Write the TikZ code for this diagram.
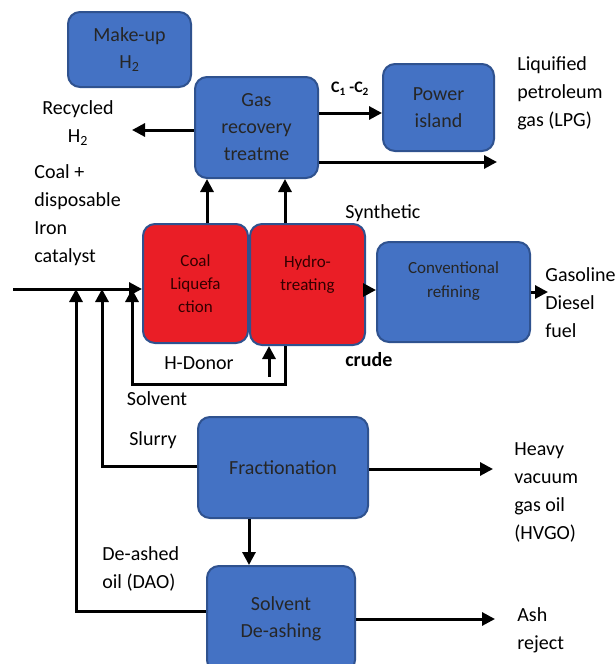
\documentclass[tikz,border=0pt]{standalone}
\usepackage{fontspec}
\setmainfont{Carlito}
\usetikzlibrary{arrows.meta}

\definecolor{boxblue}{RGB}{68,114,196}
\definecolor{edgeblue}{RGB}{47,82,143}
\definecolor{boxred}{RGB}{234,30,38}

\tikzset{every picture/.style={line width=0.75pt}}
\tikzset{
  unit/.style={draw=edgeblue, line width=2pt, fill=boxblue, rounded corners=12pt,
    align=center, text=black!85, font=\fontsize{20}{27}\selectfont, inner sep=0pt},
  hotunit/.style={unit, fill=boxred, text=black!80!red, font=\fontsize{17}{23}\selectfont},
  flow/.style={line width=3pt, -{Triangle[length=13pt,width=13pt]}},
  lbl/.style={align=left, font=\fontsize{20}{28}\selectfont, inner sep=0pt},
}

\begin{document}
\begin{tikzpicture}[x=1pt,y=1pt,yscale=-1,xscale=1]
	\clip (0,0) rectangle (615,664);

	%Shape: Rounded Rect [id:makeup] 
	\node[unit, minimum width=123pt, minimum height=75pt] (makeup) at (129.5,49.5) {Make-up\\H\textsubscript{2}};
	%Shape: Rounded Rect [id:gas] 
	\node[unit, minimum width=123pt, minimum height=101pt] (gas) at (256.5,127.5) {Gas\\recovery\\treatme};
	%Shape: Rounded Rect [id:power] 
	\node[unit, minimum width=111pt, minimum height=87pt] (power) at (438.5,107.5) {Power\\island};
	%Shape: Rounded Rect [id:coal] 
	\node[hotunit, minimum width=105pt, minimum height=119pt] (coal) at (195.5,283.5) {Coal\\Liquefa\\ction};
	%Shape: Rounded Rect [id:hydro] 
	\node[hotunit, minimum width=115pt, minimum height=121pt] (hydro) at (307.5,284.5) {Hydro-\\treating\\\mbox{}};
	%Shape: Rounded Rect [id:conv] 
	\node[unit, minimum width=153pt, minimum height=100pt, font=\fontsize{17}{24}\selectfont] (conv) at (453.5,292) {Conventional\\refining\\\mbox{}};
	%Shape: Rounded Rect [id:frac] 
	\node[unit, minimum width=170pt, minimum height=101pt] (frac) at (283,467.5) {Fractionation};
	%Shape: Rounded Rect [id:deash] 
	\node[unit, minimum width=148pt, minimum height=106pt] (deash) at (281,619) {Solvent\\De-ashing};

	%Free ends
	\coordinate (recyc) at (132,130);
	\coordinate (lpg) at (497,162);
	\coordinate (feed) at (13,289);
	\coordinate (fuel) at (548,292);
	\coordinate (hvgo) at (493,469);
	\coordinate (ash) at (495,619);

	%Straight Lines [id:gas out] 
	\draw[flow] (gas.west |- recyc) -- (recyc);
	\draw[flow] (gas.east |- 0,113) -- (power.west |- 0,113);
	\draw[flow] (gas.east |- lpg) -- (lpg);
	\draw[flow] (coal.north -| 207,0) -- (gas.south -| 207,0);
	\draw[flow] (hydro.north -| 285,0) -- (gas.south -| 285,0);
	%Straight Lines [id:feed] 
	\draw[flow] (feed) -- (coal.west |- feed);
	\draw[flow] (hydro.east |- 0,290) -- (conv.west |- 0,290);
	\draw[flow] (conv.east |- fuel) -- (fuel);
	%Straight Lines [id:solvent loop] 
	\draw[flow] (hydro.south -| 285,0) -- (285,384) -- (132,384) -- (132,289);
	\draw[flow] (269,377) -- (hydro.south -| 269,0);
	%Straight Lines [id:slurry] 
	\draw[flow] (frac.west |- 0,466) -- (102,466) -- (102,289);
	\draw[flow] (frac.east |- hvgo) -- (hvgo);
	\draw[flow] (frac.south -| 249,0) -- (deash.north -| 249,0);
	%Straight Lines [id:dao] 
	\draw[flow] (deash.west |- 0,611) -- (76,611) -- (76,289);
	\draw[flow] (deash.east |- ash) -- (ash);

	% Text Node
	\node[lbl, align=center] (trecyc) at (78,123) {Recycled\\H\textsubscript{2}};
	% Text Node
	\node[lbl, font=\bfseries\fontsize{16}{20}\selectfont] (tc12) at (350,89) {C\textsubscript{1} -C\textsubscript{2}};
	% Text Node
	\node[lbl, anchor=west] (tlpg) at (517,93) {Liquified\\petroleum\\gas (LPG)};
	% Text Node
	\node[lbl, anchor=west] (tcoal) at (34,215) {Coal +\\disposable\\Iron\\catalyst};
	% Text Node
	\node[lbl, anchor=west] (tsyn) at (345,213) {Synthetic};
	% Text Node
	\node[lbl, anchor=west, font=\bfseries\fontsize{20}{28}\selectfont] (tcrude) at (345,360) {crude};
	% Text Node
	\node[lbl] (tdonor) at (199,363) {H-Donor};
	% Text Node
	\node[lbl] (tsolv) at (157,399) {Solvent};
	% Text Node
	\node[lbl, anchor=west] (tfuel) at (545,303) {Gasoline\\Diesel\\fuel};
	% Text Node
	\node[lbl] (tslurry) at (153,440) {Slurry};
	% Text Node
	\node[lbl, anchor=west] (thvgo) at (514,492) {Heavy\\vacuum\\gas oil\\(HVGO)};
	% Text Node
	\node[lbl, anchor=west] (tdao) at (102,568.5) {De-ashed\\oil (DAO)};
	% Text Node
	\node[lbl, anchor=west] (tash) at (517,630) {Ash\\reject};

\end{tikzpicture}
\end{document}
